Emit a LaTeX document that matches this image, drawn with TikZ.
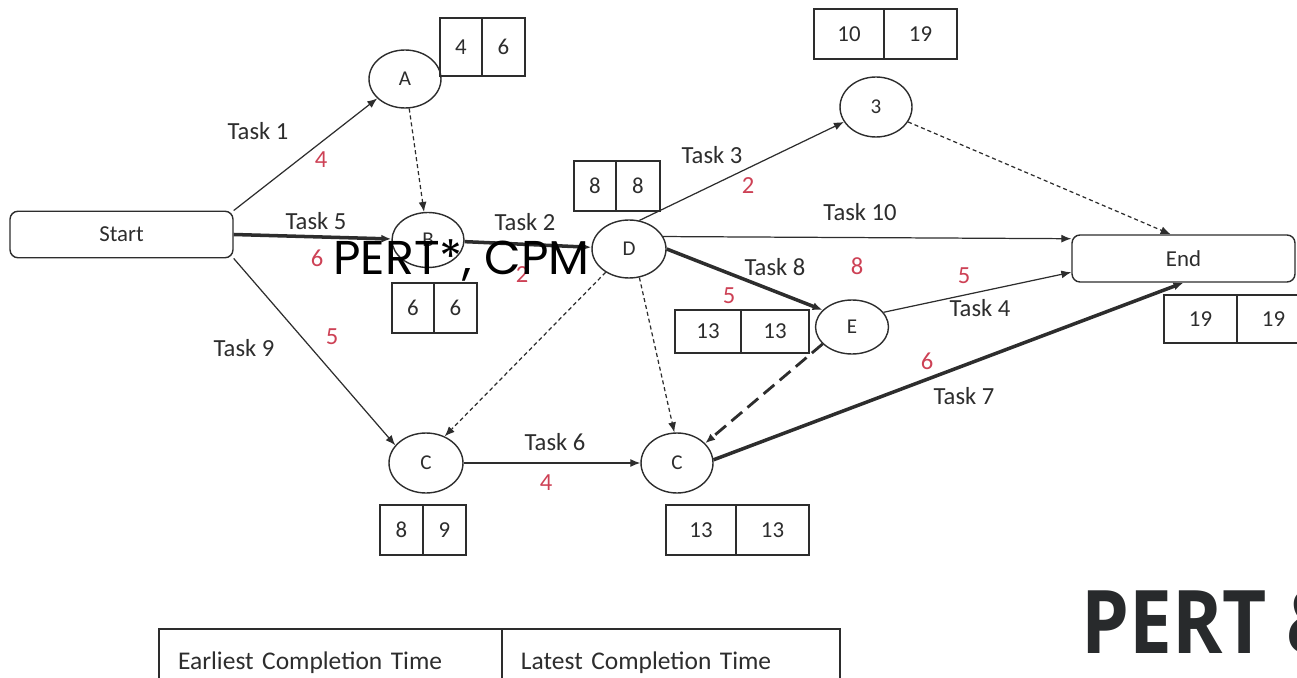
\documentclass[tikz,border=0pt]{standalone}
\usepackage{fontspec}
\setmainfont{Carlito}
\newfontfamily\overlayfont{Poppins}
\newfontfamily\titlefont{Open Sans}[FakeStretch=0.87]
\usetikzlibrary{arrows.meta,positioning,shapes.geometric}
\definecolor{linegray}{RGB}{45,45,45}
\definecolor{weightred}{RGB}{205,65,85}
\definecolor{titlegray}{RGB}{40,42,44}
\tikzset{%
	>={Latex[width=1.6mm,length=2mm]},
	% Specifications for style of nodes:
	base/.style = {rectangle, rounded corners=0.16cm, draw=linegray, line width=0.8pt,
		minimum width=4.46cm, minimum height=0.93cm,
		text centered, text=linegray, font=\fontsize{13}{15}\selectfont},
	event/.style = {ellipse, draw=linegray, line width=0.8pt, minimum width=1.44cm,
		minimum height=1.16cm, inner sep=0pt, text=linegray, font=\fontsize{12}{14}\selectfont},
	cell/.style = {rectangle, draw=linegray, line width=0.8pt, outer sep=0pt, inner sep=0pt,
		minimum height=1cm, text=linegray, font=\fontsize{13}{15}\selectfont},
	legend/.style = {cell, minimum height=1.36cm, inner xsep=0.38cm, align=left,
		font=\fontsize{14.5}{16}\selectfont},
	task/.style = {inner sep=0pt, text=linegray, font=\fontsize{14}{16}\selectfont},
	weight/.style = {task, text=weightred},
	% Specifications for style of connectors:
	activity/.style = {draw=linegray, line width=0.7pt},
	critical/.style = {activity, line width=2pt},
	dummy/.style = {activity, dash pattern=on 2.3pt off 1.7pt},
	longdummy/.style = {activity, line width=1.6pt, dash pattern=on 8pt off 4pt},
}

\begin{document}
\begin{tikzpicture}[x=0.02cm, y=-0.02cm]
	\useasboundingbox (0,0) rectangle (1297,678);
	\clip (0,0) rectangle (1297,678);

	% Specification of nodes (position, etc.)
	\node (start) [base] at (121.5,234.5) {Start};
	\node (end)   [base, minimum height=0.94cm] at (1183.5,258.5) {End};

	\node (A)     [event] at (405,79) {A};
	\node (B)     [event, minimum height=1.1cm] at (428,240) {B};
	\node (D)     [event, minimum width=1.48cm] at (629,249) {D};
	\node (three) [event, minimum height=1.2cm] at (876,107) {3};
	\node (E)     [event, minimum width=1.46cm, minimum height=1.08cm] at (852,327) {E};
	\node (C1)    [event, minimum width=1.48cm, minimum height=1.2cm] at (426,463) {C};
	\node (C2)    [event, minimum height=1.2cm] at (677,463) {C};

	% earliest / latest times
	\node (timeA1) [cell, minimum width=0.84cm, minimum height=1.16cm] at (461,47) {4};
	\node (timeA2) [cell, minimum width=0.86cm, minimum height=1.16cm, right=0pt of timeA1] {6};

	\node (timeB1) [cell, minimum width=0.84cm] at (413,308) {6};
	\node (timeB2) [cell, minimum width=0.86cm, right=0pt of timeB1] {6};

	\node (timeD1) [cell, minimum width=0.84cm] at (595,186) {8};
	\node (timeD2) [cell, minimum width=0.88cm, right=0pt of timeD1] {8};

	\node (timeThree1) [cell, minimum width=1.4cm] at (849,34) {10};
	\node (timeThree2) [cell, minimum width=1.46cm, right=0pt of timeThree1] {19};

	\node (timeE1) [cell, minimum width=1.32cm, minimum height=0.86cm] at (708,331.5) {13};
	\node (timeE2) [cell, minimum width=1.36cm, minimum height=0.86cm, right=0pt of timeE1] {13};

	\node (timeEnd1) [cell, minimum width=1.46cm, minimum height=0.96cm] at (1200.5,319) {19};
	\node (timeEnd2) [cell, minimum width=1.46cm, minimum height=0.96cm, right=0pt of timeEnd1] {19};

	\node (timeCa1) [cell, minimum width=0.86cm] at (401.5,530) {8};
	\node (timeCa2) [cell, minimum width=0.86cm, right=0pt of timeCa1] {9};

	\node (timeCb1) [cell, minimum width=1.4cm] at (701,530) {13};
	\node (timeCb2) [cell, minimum width=1.46cm, right=0pt of timeCb1] {13};

	\node (legend1) [legend, text width=6.1cm] at (330.5,663) {Earliest Completion Time};
	\node (legend2) [legend, text width=6.0cm, right=0pt of legend1] {Latest Completion Time};

	% task names and durations
	\node (task1)  [task] at (258,131) {Task 1};
	\node (task5)  [task] at (316,221) {Task 5};
	\node (task9)  [task] at (244,348) {Task 9};
	\node (task2)  [task] at (525,222) {Task 2};
	\node (task3)  [task] at (712,155) {Task 3};
	\node (task10) [task] at (860,212) {Task 10};
	\node (task8)  [task] at (775,267) {Task 8};
	\node (task4)  [task] at (980,308) {Task 4};
	\node (task7)  [task] at (964,396) {Task 7};
	\node (task6)  [task] at (555,442) {Task 6};

	\node (weight1)  [weight] at (321,160) {4};
	\node (weight5)  [weight] at (317,258) {6};
	\node (weight9)  [weight] at (332,337) {5};
	\node (weight2)  [weight] at (522,275) {2};
	\node (weight3)  [weight] at (748,186) {2};
	\node (weight10) [weight] at (857,266) {8};
	\node (weight8)  [weight] at (729,296) {5};
	\node (weight4)  [weight] at (964,276) {5};
	\node (weight7)  [weight] at (927,361) {6};
	\node (weight6)  [weight] at (546,483) {4};

	% connectors
	\draw[->] [activity] (start.north east) -- (A.215);
	\draw[->] [critical] (start.east) -- (B);
	\draw[->] [activity] (start.south east) -- (C1.150);
	\draw[->] [dummy] (A) -- (B);
	\draw[->] [critical] (B) -- (D);
	\draw[->] [activity] (D.70) -- (three.205);
	\draw[->] [activity] (D.20) -- (end.170);
	\draw[->] [critical] (D.east) -- (E.150);
	\draw[->] [dummy] (D.225) -- (C1.55);
	\draw[->] [dummy] (D.290) -- (C2.95);
	\draw[->] [longdummy] (E.210) -- (C2.35);
	\draw[->] [activity] (E.25) -- (end.187);
	\draw[->] [dummy] (three.335) -- (end.118);
	\draw[->] [activity] (C1) -- (C2);
	\draw[->] [critical] (C2.5) -- (end.south);

	% texts on top
	\node (overlay) [anchor=base west, inner sep=0pt, font=\overlayfont\fontsize{27}{30}\selectfont]
		at (333,275) {PERT*, CPM};
	\node (title) [anchor=base west, inner sep=0pt, text=titlegray,
		font=\titlefont\bfseries\fontsize{50}{56}\selectfont] at (1081,653) {PERT \&};
\end{tikzpicture}
\end{document}
